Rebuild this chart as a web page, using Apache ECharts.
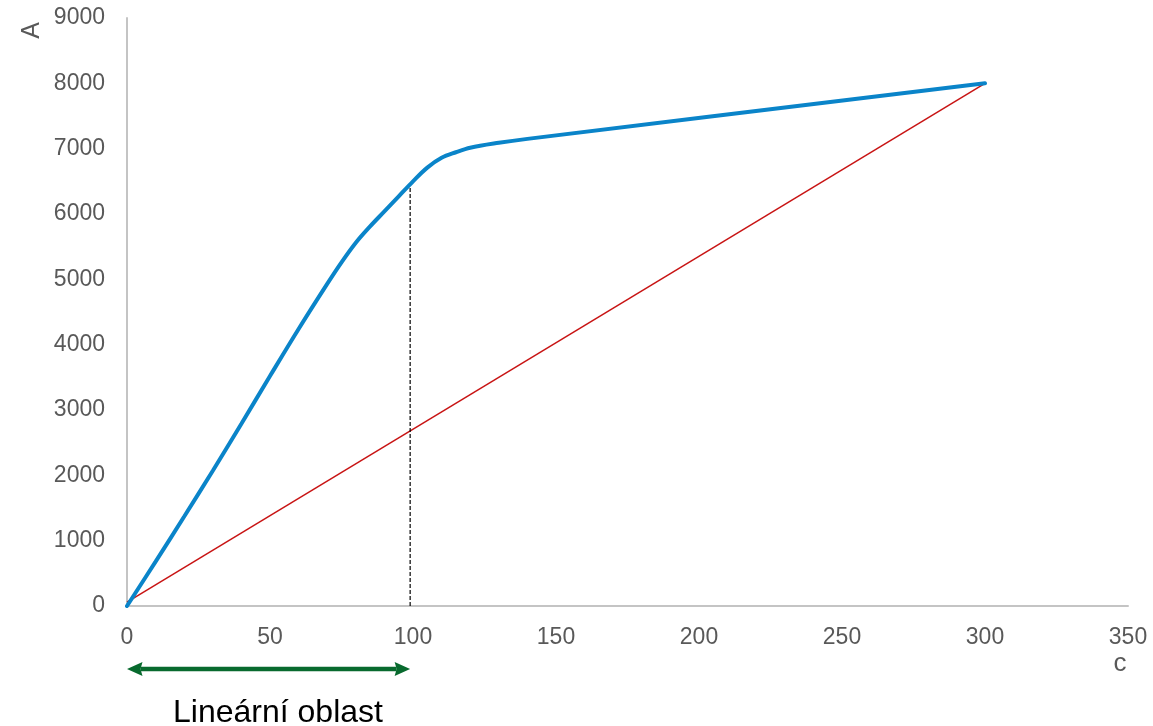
<!DOCTYPE html>
<html>
<head>
<meta charset="utf-8">
<script src="https://cdn.jsdelivr.net/npm/echarts@6/dist/echarts.min.js"></script>
<style>
html,body{margin:0;padding:0;background:#fff;}
#chart{width:1153px;height:726px;}
</style>
</head>
<body>
<div id="chart"></div>
<script>
// Data
const curveC = [0, 10, 20, 30, 40, 50, 60, 70, 75, 80, 85, 90, 95, 100, 105, 110, 115, 120, 130, 140, 300];
const curveA = [0, 680, 1370, 2070, 2790, 3520, 4240, 4930, 5260, 5560, 5810, 6040, 6270, 6500, 6710, 6860, 6945, 7015, 7090, 7150, 8000];
const chordC = [0, 300];
const chordA = [60, 8000];
const markerC = [99, 99];
const markerA = [0, 6460];
const rangeC = [0, 99];
const rangeA = -965;
const xTicks = [0, 350, 50];
const yTicks = [0, 9000, 1000];
const xTitle = 'c';
const yTitle = 'A';
const rangeLabel = 'Lineární oblast';

const zip = (xs, ys) => xs.map((x, i) => [x, ys[i]]);

const chart = echarts.init(document.getElementById('chart'));
const FONT = '"Liberation Sans", Arial, sans-serif';
const option = {
  animation: false,
  backgroundColor: '#ffffff',
  grid: { left: 127, right: 25, top: 18, bottom: 120, containLabel: false },
  xAxis: {
    type: 'value', min: xTicks[0], max: xTicks[1], interval: xTicks[2],
    axisLine: { lineStyle: { color: '#c4c4c4', width: 2 } },
    axisTick: { show: false },
    splitLine: { show: false },
    axisLabel: { color: '#595959', fontSize: 23, fontFamily: FONT, margin: 20, formatter: v => String(v) }
  },
  yAxis: {
    type: 'value', min: yTicks[0], max: yTicks[1], interval: yTicks[2],
    axisLine: { show: true, lineStyle: { color: '#c4c4c4', width: 2 } },
    axisTick: { show: false },
    splitLine: { show: false },
    axisLabel: { color: '#595959', fontSize: 23, fontFamily: FONT, margin: 22, formatter: v => String(v) }
  },
  series: [
    {
      type: 'line', name: 'chord', data: zip(chordC, chordA),
      showSymbol: false, symbol: 'none',
      lineStyle: { color: '#c81414', width: 1.5 }, z: 2
    },
    {
      type: 'line', name: 'marker', data: zip(markerC, markerA),
      showSymbol: false, symbol: 'none',
      lineStyle: { color: '#000000', width: 1.2, type: [4, 2] }, z: 2
    },
    {
      type: 'line', name: 'curve', data: zip(curveC, curveA),
      showSymbol: false, symbol: 'none', smooth: 0.35,
      lineStyle: { color: '#0a84c9', width: 4, cap: 'round' }, z: 3
    }
  ]
};
chart.setOption(option);

// Range arrow placed through the chart's own scales
const p0 = chart.convertToPixel({ gridIndex: 0 }, [rangeC[0], rangeA]);
const p1 = chart.convertToPixel({ gridIndex: 0 }, [rangeC[1], rangeA]);
const L = 15.5, H = 7, N = 2;
const GREEN = '#086a2e';
chart.setOption({
  graphic: [
    { type: 'text', left: 20, top: 22, rotation: Math.PI / 2,
      style: { text: yTitle, fontSize: 25, fontFamily: FONT, fill: '#595959' } },
    { type: 'text', x: 1120, y: 664,
      style: { text: xTitle, fontSize: 26, fontFamily: FONT, fill: '#595959', align: 'center', verticalAlign: 'middle' } },
    { type: 'text', x: 278, y: 713,
      style: { text: rangeLabel, fontSize: 32, fontFamily: FONT, fill: '#000000', align: 'center', verticalAlign: 'middle' } },
    { type: 'line', shape: { x1: p0[0] + L - N, y1: p0[1], x2: p1[0] - L + N, y2: p1[1] },
      style: { stroke: GREEN, lineWidth: 4.5 } },
    { type: 'polygon', shape: { points: [[p0[0], p0[1]], [p0[0] + L, p0[1] - H], [p0[0] + L - N, p0[1]], [p0[0] + L, p0[1] + H]] },
      style: { fill: GREEN } },
    { type: 'polygon', shape: { points: [[p1[0], p1[1]], [p1[0] - L, p1[1] - H], [p1[0] - L + N, p1[1]], [p1[0] - L, p1[1] + H]] },
      style: { fill: GREEN } }
  ]
});
</script>
</body>
</html>
